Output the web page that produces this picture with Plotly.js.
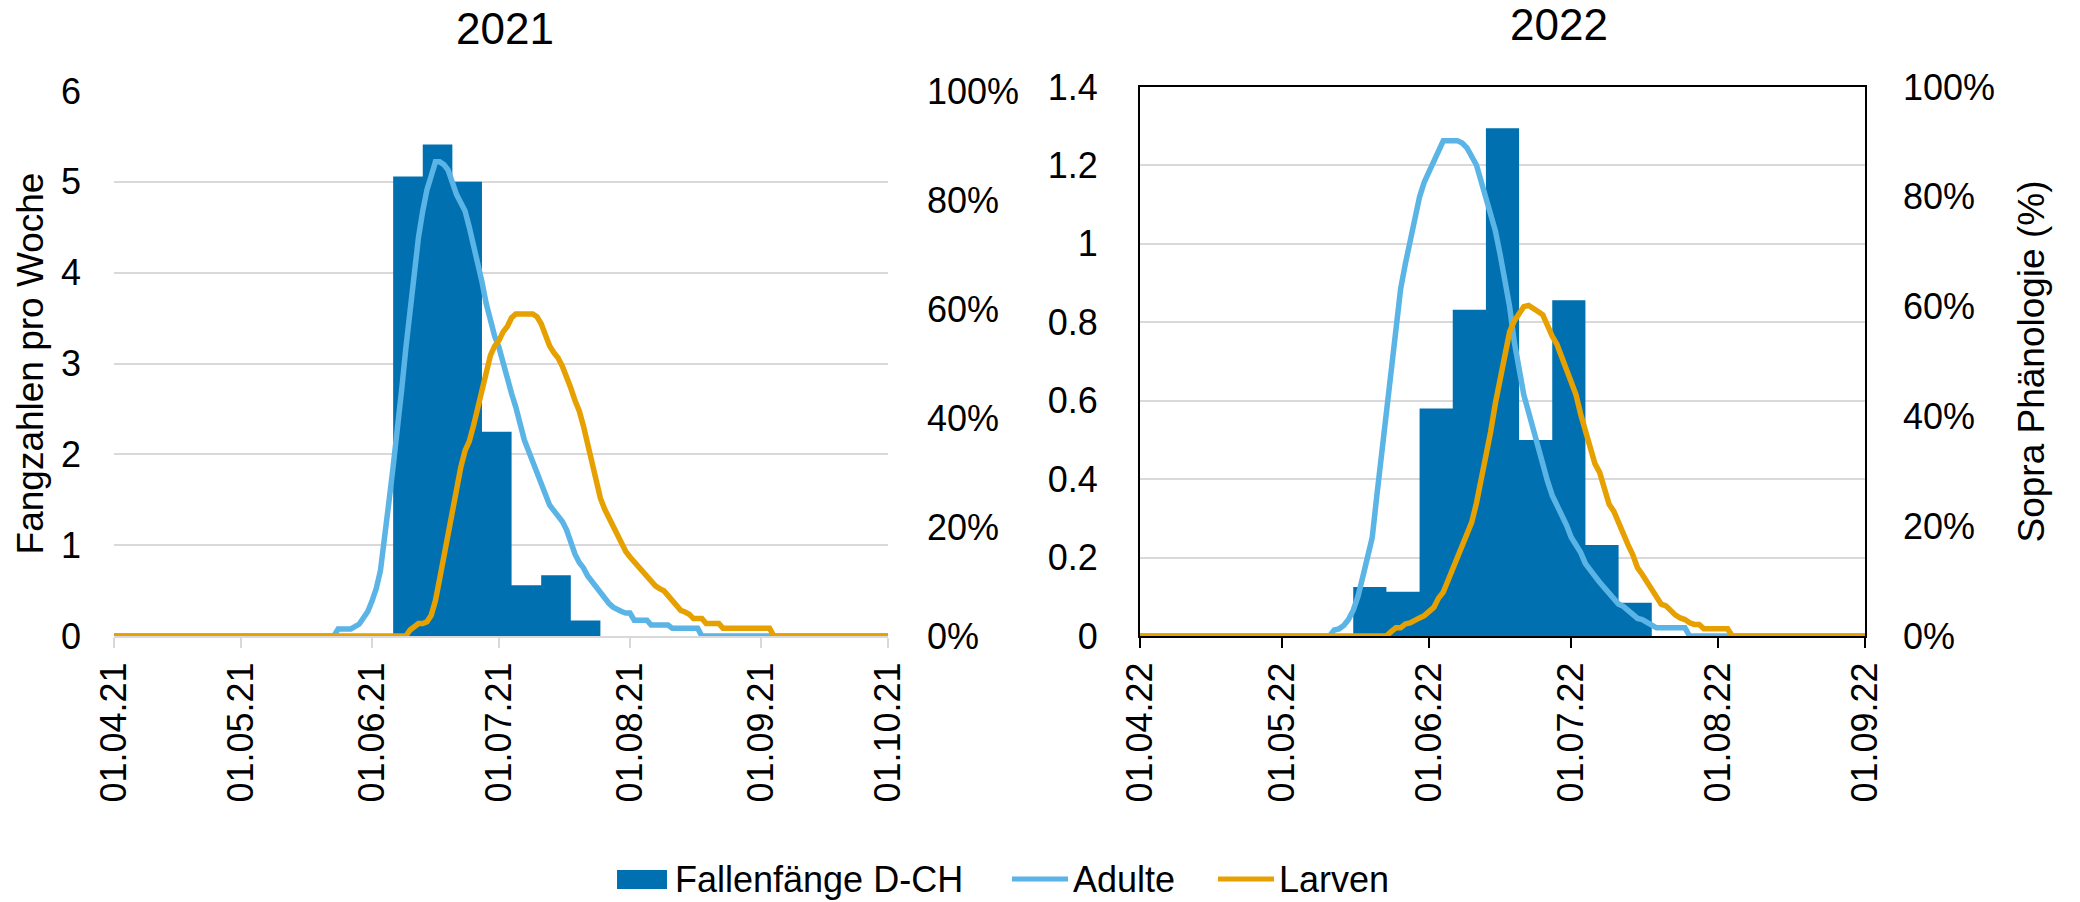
<!DOCTYPE html>
<html>
<head>
<meta charset="utf-8">
<script src="https://cdn.plot.ly/plotly-3.0.1.min.js"></script>
<style>
html,body{margin:0;padding:0;background:#fff;}
#chart{width:2080px;height:902px;}
</style>
</head>
<body>
<div id="chart"></div>
<script>
// ---------------- DATA ----------------
const seriesNames = ['Fallenfänge D-CH', 'Adulte', 'Larven'];
const panelTitles = ['2021', '2022'];
const leftAxisTitle = 'Fangzahlen pro Woche';
const rightAxisTitle = 'Sopra Phänologie (%)';

const ticks2021 = ['2021-04-01','2021-05-01','2021-06-01','2021-07-01','2021-08-01','2021-09-01','2021-10-01'];
const tickText2021 = ['01.04.21','01.05.21','01.06.21','01.07.21','01.08.21','01.09.21','01.10.21'];
const ticks2022 = ['2022-04-01','2022-05-01','2022-06-01','2022-07-01','2022-08-01','2022-09-01'];
const tickText2022 = ['01.04.22','01.05.22','01.06.22','01.07.22','01.08.22','01.09.22'];

// weekly trap catches (week start, catches per week)
const trapWeeks2021 = ['2021-06-06','2021-06-13','2021-06-20','2021-06-27','2021-07-04','2021-07-11','2021-07-18','2021-07-25'];
const trapCounts2021 = [5.06, 5.41, 5.0, 2.25, 0.56, 0.67, 0.17, 0];
const trapWeeks2022 = ['2022-05-16','2022-05-23','2022-05-30','2022-06-06','2022-06-13','2022-06-20','2022-06-27','2022-07-04','2022-07-11','2022-07-18'];
const trapCounts2022 = [0.125, 0.113, 0.58, 0.832, 1.295, 0.5, 0.856, 0.232, 0.085, 0];

// Sopra phenology, adults 2021 (%)
const adultDates2021 = ['2021-04-01','2021-05-23','2021-05-24','2021-05-27','2021-05-29','2021-05-31','2021-06-01','2021-06-02','2021-06-03','2021-06-04','2021-06-05','2021-06-06','2021-06-07','2021-06-08','2021-06-09','2021-06-10','2021-06-11','2021-06-12','2021-06-13','2021-06-14','2021-06-15','2021-06-16','2021-06-17','2021-06-18','2021-06-19','2021-06-20','2021-06-21','2021-06-22','2021-06-23','2021-06-24','2021-06-25','2021-06-26','2021-06-27','2021-06-28','2021-06-29','2021-06-30','2021-07-01','2021-07-02','2021-07-03','2021-07-04','2021-07-05','2021-07-06','2021-07-07','2021-07-08','2021-07-09','2021-07-10','2021-07-11','2021-07-12','2021-07-13','2021-07-14','2021-07-15','2021-07-16','2021-07-17','2021-07-18','2021-07-19','2021-07-20','2021-07-21','2021-07-22','2021-07-23','2021-07-24','2021-07-25','2021-07-26','2021-07-27','2021-07-28','2021-07-29','2021-07-30','2021-07-31','2021-08-01','2021-08-02','2021-08-05','2021-08-06','2021-08-10','2021-08-11','2021-08-17','2021-08-18','2021-10-01'];
const adultPct2021 = [0,0,1.3,1.3,2.2,4.5,6.4,8.7,12.0,17.7,24.6,31.1,37.5,45.1,52.8,60.2,67.3,73.2,78.0,81.9,84.4,87.0,87.0,86.5,85.5,83.0,81.0,79.5,78.0,75.0,72.0,68.0,65.0,61.0,57.5,55.0,53.0,50.0,46.5,44.5,42.0,38.5,36.0,34.0,32.0,30.0,28.0,25.5,24.0,23.0,22.0,21.0,19.5,17.0,15.0,13.5,12.5,11.0,10.0,9.0,7.8,6.8,6.0,5.3,4.8,4.5,4.2,4.2,2.9,2.9,2.0,2.0,1.4,1.4,0,0];

// Sopra phenology, larvae 2021 (%)
const larvaDates2021 = ['2021-04-01','2021-06-09','2021-06-10','2021-06-11','2021-06-12','2021-06-13','2021-06-14','2021-06-15','2021-06-16','2021-06-17','2021-06-18','2021-06-19','2021-06-20','2021-06-21','2021-06-22','2021-06-23','2021-06-24','2021-06-25','2021-06-26','2021-06-27','2021-06-28','2021-06-29','2021-06-30','2021-07-01','2021-07-02','2021-07-03','2021-07-04','2021-07-05','2021-07-09','2021-07-10','2021-07-11','2021-07-12','2021-07-13','2021-07-14','2021-07-15','2021-07-16','2021-07-17','2021-07-18','2021-07-19','2021-07-20','2021-07-21','2021-07-22','2021-07-23','2021-07-24','2021-07-25','2021-07-26','2021-07-27','2021-07-28','2021-07-29','2021-07-30','2021-07-31','2021-08-01','2021-08-02','2021-08-03','2021-08-04','2021-08-05','2021-08-06','2021-08-07','2021-08-08','2021-08-09','2021-08-10','2021-08-11','2021-08-12','2021-08-13','2021-08-14','2021-08-15','2021-08-16','2021-08-18','2021-08-19','2021-08-22','2021-08-23','2021-09-03','2021-09-04','2021-10-01'];
const larvaPct2021 = [0,0,1.1,1.6,2.3,2.3,2.6,3.8,6.5,10.5,14.5,19.5,23.5,27.0,31.0,34.0,35.7,38.6,41.8,45.3,49.2,51.5,53.2,54.2,55.8,56.8,58.4,59.1,59.1,58.6,57.3,55.0,53.2,52.0,51.0,49.5,47.7,45.5,43.2,41.3,38.5,35.2,31.4,27.8,25.3,23.3,21.7,20.1,18.5,16.8,15.5,14.5,13.6,12.8,11.8,10.9,10.0,9.2,8.7,8.3,7.4,6.4,5.5,4.7,4.4,4.0,3.2,3.2,2.3,2.3,1.4,1.4,0,0];

// Sopra phenology, adults 2022 (%)
const adultDates2022 = ['2022-04-01','2022-05-11','2022-05-12','2022-05-13','2022-05-14','2022-05-15','2022-05-16','2022-05-17','2022-05-18','2022-05-19','2022-05-20','2022-05-21','2022-05-22','2022-05-23','2022-05-24','2022-05-25','2022-05-26','2022-05-27','2022-05-28','2022-05-29','2022-05-30','2022-05-31','2022-06-01','2022-06-02','2022-06-03','2022-06-04','2022-06-07','2022-06-08','2022-06-09','2022-06-10','2022-06-11','2022-06-12','2022-06-13','2022-06-14','2022-06-15','2022-06-16','2022-06-17','2022-06-18','2022-06-19','2022-06-20','2022-06-21','2022-06-22','2022-06-23','2022-06-24','2022-06-25','2022-06-26','2022-06-27','2022-06-28','2022-06-29','2022-06-30','2022-07-01','2022-07-02','2022-07-03','2022-07-04','2022-07-05','2022-07-06','2022-07-07','2022-07-08','2022-07-09','2022-07-10','2022-07-11','2022-07-12','2022-07-13','2022-07-14','2022-07-15','2022-07-16','2022-07-17','2022-07-18','2022-07-19','2022-07-25','2022-07-26','2022-09-01'];
const adultPct2022 = [0,0,1.1,1.3,1.9,3.0,4.7,7.2,10.7,14.8,17.9,25.7,32.9,41.2,49.2,56.5,63.2,67.8,72.0,76.2,80.0,82.7,84.6,86.8,88.8,90.2,90.2,89.8,88.9,87.5,85.8,82.8,80.0,77.3,73.8,69.5,64.7,60.0,53.5,48.0,43.9,40.8,37.6,34.2,31.5,28.2,25.6,23.9,22.2,20.2,18.0,16.8,15.2,13.2,11.9,10.9,9.8,8.8,7.8,6.8,5.8,5.4,4.6,3.8,3.2,3.0,2.6,2.0,1.5,1.5,0,0];

// Sopra phenology, larvae 2022 (%)
const larvaDates2022 = ['2022-04-01','2022-05-23','2022-05-24','2022-05-25','2022-05-26','2022-05-27','2022-05-28','2022-05-29','2022-05-30','2022-05-31','2022-06-01','2022-06-02','2022-06-03','2022-06-04','2022-06-05','2022-06-06','2022-06-07','2022-06-08','2022-06-09','2022-06-10','2022-06-11','2022-06-12','2022-06-13','2022-06-14','2022-06-15','2022-06-16','2022-06-17','2022-06-18','2022-06-19','2022-06-20','2022-06-21','2022-06-22','2022-06-23','2022-06-24','2022-06-25','2022-06-26','2022-06-27','2022-06-28','2022-06-29','2022-06-30','2022-07-01','2022-07-02','2022-07-03','2022-07-04','2022-07-05','2022-07-06','2022-07-07','2022-07-08','2022-07-09','2022-07-10','2022-07-11','2022-07-12','2022-07-13','2022-07-14','2022-07-15','2022-07-16','2022-07-17','2022-07-18','2022-07-19','2022-07-20','2022-07-21','2022-07-22','2022-07-23','2022-07-24','2022-07-25','2022-07-26','2022-07-27','2022-07-28','2022-07-29','2022-08-03','2022-08-04','2022-09-01'];
const larvaPct2022 = [0,0,0.8,1.5,1.5,2.2,2.4,3.0,3.3,3.7,4.3,5.2,6.9,8.0,10.1,12.3,14.4,16.6,18.6,20.7,24.2,28.5,32.3,37.2,42.4,47.2,51.7,55.4,57.4,58.9,60.0,60.2,59.5,59.1,58.5,56.4,54.6,53.1,50.9,48.2,46.2,44.0,40.4,37.6,34.2,31.4,29.8,27.0,24.0,22.7,20.5,18.3,16.6,14.8,12.4,11.2,9.9,8.4,7.0,5.8,5.5,4.6,3.8,3.3,3.0,2.4,2.1,2.1,1.3,1.3,0,0];

// ---------------- STYLE ----------------
const FONT = 'Liberation Sans, Arial, Helvetica, sans-serif';
const C_TRAP = '#0070B0';
const C_ADULT = '#5AB4E6';
const C_LARVA = '#E6A000';
const C_GRID = '#D9D9D9';
const LW = 5.5;
const W = 2080, H = 902;
const px = x => x / W;
const py = y => (H - y) / H;

const traces = [
  {x: trapWeeks2021, y: trapCounts2021, xaxis: 'x', yaxis: 'y', type: 'scatter', mode: 'lines',
   line: {shape: 'hv', width: 0, color: C_TRAP}, fill: 'tozeroy', fillcolor: C_TRAP,
   name: seriesNames[0], showlegend: false, cliponaxis: false},
  {x: adultDates2021, y: adultPct2021, xaxis: 'x', yaxis: 'y2', type: 'scatter', mode: 'lines',
   line: {width: LW, color: C_ADULT}, name: seriesNames[1], showlegend: false, cliponaxis: false},
  {x: larvaDates2021, y: larvaPct2021, xaxis: 'x', yaxis: 'y2', type: 'scatter', mode: 'lines',
   line: {width: LW, color: C_LARVA}, name: seriesNames[2], showlegend: false, cliponaxis: false},
  {x: trapWeeks2022, y: trapCounts2022, xaxis: 'x2', yaxis: 'y3', type: 'scatter', mode: 'lines',
   line: {shape: 'hv', width: 0, color: C_TRAP}, fill: 'tozeroy', fillcolor: C_TRAP,
   name: seriesNames[0], showlegend: false, cliponaxis: false},
  {x: adultDates2022, y: adultPct2022, xaxis: 'x2', yaxis: 'y4', type: 'scatter', mode: 'lines',
   line: {width: LW, color: C_ADULT}, name: seriesNames[1], showlegend: false, cliponaxis: false},
  {x: larvaDates2022, y: larvaPct2022, xaxis: 'x2', yaxis: 'y4', type: 'scatter', mode: 'lines',
   line: {width: LW, color: C_LARVA}, name: seriesNames[2], showlegend: false, cliponaxis: false}
];

const tickFont = {family: FONT, size: 36, color: '#000'};

const layout = {
  width: W, height: H,
  margin: {l: 0, r: 0, t: 0, b: 0},
  paper_bgcolor: '#fff', plot_bgcolor: '#fff',
  font: {family: FONT, color: '#000'},
  showlegend: false,
  xaxis: {
    domain: [px(114), px(888)], anchor: 'y', type: 'date',
    range: [ticks2021[0], ticks2021[ticks2021.length - 1]],
    tickmode: 'array', tickvals: ticks2021, ticktext: tickText2021, tickangle: -90,
    tickfont: tickFont, showgrid: false, zeroline: false,
    showline: true, linecolor: C_GRID, linewidth: 2,
    ticks: 'outside', ticklen: 10, tickwidth: 2, tickcolor: C_GRID,
    layer: 'below traces', fixedrange: true
  },
  yaxis: {
    domain: [py(636), py(91)], anchor: 'x', range: [0, 6], dtick: 1, tick0: 0,
    showgrid: true, gridcolor: C_GRID, gridwidth: 2, zeroline: false, showline: false,
    ticks: '', tickfont: tickFont, ticklabelstandoff: 32,
    title: {text: leftAxisTitle, font: {family: FONT, size: 37, color: '#000'}, standoff: 6},
    fixedrange: true
  },
  yaxis2: {
    overlaying: 'y', anchor: 'x', side: 'right', range: [0, 100], dtick: 20, tick0: 0,
    ticksuffix: '%', showgrid: false, zeroline: false, showline: false, ticks: '',
    tickfont: tickFont, ticklabelstandoff: 38, fixedrange: true
  },
  xaxis2: {
    domain: [px(1140), px(1865)], anchor: 'y3', type: 'date',
    range: [ticks2022[0], ticks2022[ticks2022.length - 1]],
    tickmode: 'array', tickvals: ticks2022, ticktext: tickText2022, tickangle: -90,
    tickfont: tickFont, showgrid: false, zeroline: false,
    showline: true, linecolor: '#000', linewidth: 2, mirror: true,
    ticks: 'outside', ticklen: 10, tickwidth: 2, tickcolor: '#000',
    layer: 'below traces', fixedrange: true
  },
  yaxis3: {
    domain: [py(636), py(87)], anchor: 'x2', range: [0, 1.4], dtick: 0.2, tick0: 0,
    showgrid: true, gridcolor: C_GRID, gridwidth: 2, zeroline: false,
    showline: true, linecolor: '#000', linewidth: 2, mirror: true,
    ticks: '', tickfont: tickFont, ticklabelstandoff: 33, layer: 'below traces', fixedrange: true
  },
  yaxis4: {
    overlaying: 'y3', anchor: 'x2', side: 'right', range: [0, 100], dtick: 20, tick0: 0,
    ticksuffix: '%', showgrid: false, zeroline: false, showline: false, ticks: '',
    tickfont: tickFont, ticklabelstandoff: 37,
    title: {text: rightAxisTitle, font: {family: FONT, size: 37, color: '#000'}, standoff: 24},
    fixedrange: true
  },
  annotations: [
    {text: panelTitles[0], xref: 'paper', yref: 'paper', x: px(505), y: py(29), xanchor: 'center', yanchor: 'middle',
     showarrow: false, font: {family: FONT, size: 44, color: '#000'}},
    {text: panelTitles[1], xref: 'paper', yref: 'paper', x: px(1559), y: py(24), xanchor: 'center', yanchor: 'middle',
     showarrow: false, font: {family: FONT, size: 44, color: '#000'}},
    {text: seriesNames[0], xref: 'paper', yref: 'paper', x: px(673), y: py(879), xanchor: 'left', yanchor: 'middle',
     showarrow: false, font: {family: FONT, size: 36, color: '#000'}},
    {text: seriesNames[1], xref: 'paper', yref: 'paper', x: px(1071), y: py(879), xanchor: 'left', yanchor: 'middle',
     showarrow: false, font: {family: FONT, size: 36, color: '#000'}},
    {text: seriesNames[2], xref: 'paper', yref: 'paper', x: px(1277), y: py(879), xanchor: 'left', yanchor: 'middle',
     showarrow: false, font: {family: FONT, size: 36, color: '#000'}}
  ],
  shapes: [
    {type: 'rect', xref: 'paper', yref: 'paper', x0: px(617), x1: px(667), y0: py(889), y1: py(870),
     fillcolor: C_TRAP, line: {width: 0}},
    {type: 'line', xref: 'paper', yref: 'paper', x0: px(1012), x1: px(1068), y0: py(879), y1: py(879),
     line: {color: C_ADULT, width: 5}},
    {type: 'line', xref: 'paper', yref: 'paper', x0: px(1218), x1: px(1274), y0: py(879), y1: py(879),
     line: {color: C_LARVA, width: 5}}
  ]
};

Plotly.newPlot('chart', traces, layout, {displayModeBar: false, staticPlot: true});
</script>
</body>
</html>
